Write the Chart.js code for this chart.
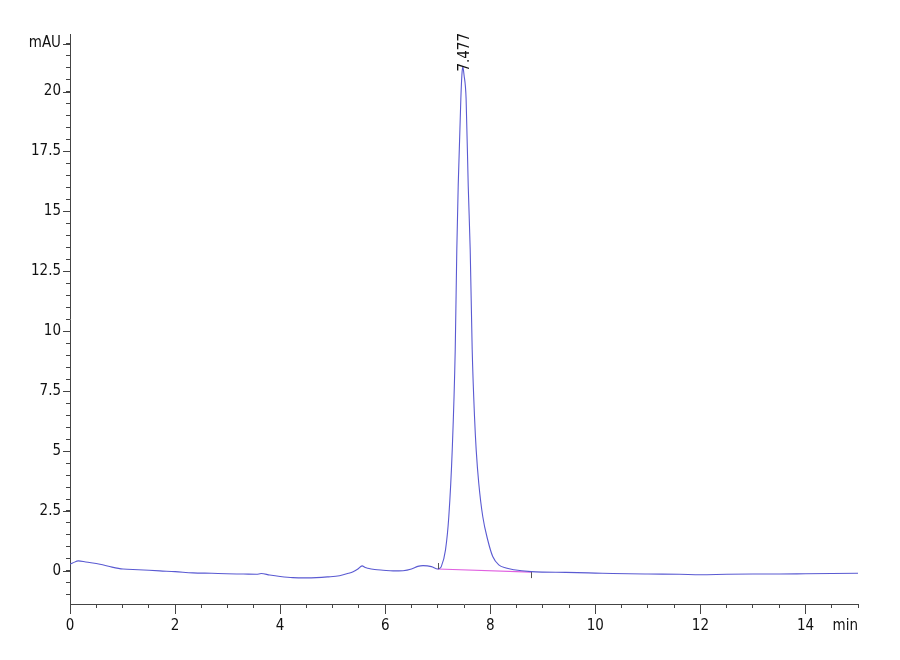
<!DOCTYPE html>
<html><head><meta charset="utf-8">
<script src="https://cdn.jsdelivr.net/npm/chart.js@4.4.0/dist/chart.umd.min.js"></script>
<style>html,body{margin:0;padding:0;background:#fff}#wrap{width:900px;height:660px;position:relative}</style>
</head><body><div id="wrap"><canvas id="c"></canvas></div>
<script>
// retention time (min)
const times = [0,0.05,0.16,0.3,0.57,0.8,1.01,1.3,1.71,2.0,2.34,2.7,2.98,3.3,3.55,3.64,3.8,4.0,4.24,4.5,4.69,4.9,5.13,5.3,5.39,5.48,5.56,5.62,5.67,5.8,5.96,6.15,6.34,6.5,6.62,6.72,6.88,7.0,7.03,7.067,7.148,7.211,7.276,7.333,7.363,7.39,7.44,7.46,7.477,7.5,7.54,7.58,7.618,7.656,7.70,7.732,7.781,7.857,7.952,8.047,8.162,8.3,8.45,8.78,9.0,9.44,10.0,10.33,11.0,11.6,12.0,12.5,13.0,13.5,14.0,14.5,15.0];
// absorbance (mAU)
const signal = [0.29,0.33,0.42,0.37,0.28,0.16,0.08,0.05,0.0,-0.03,-0.08,-0.1,-0.12,-0.13,-0.14,-0.11,-0.17,-0.23,-0.28,-0.29,-0.28,-0.25,-0.2,-0.1,-0.03,0.08,0.21,0.14,0.11,0.06,0.03,0.0,0.01,0.08,0.19,0.22,0.18,0.08,0.1,0.18,0.88,2.27,5.05,9.23,13.4,16.1,19.7,20.7,21.04,20.7,19.7,16.1,13.4,9.23,6.44,5.05,3.66,2.27,1.29,0.6,0.25,0.12,0.05,-0.03,-0.05,-0.06,-0.09,-0.11,-0.13,-0.14,-0.16,-0.14,-0.13,-0.13,-0.12,-0.11,-0.1];
// integration baseline
const baselineTimes = [7.0, 8.78];
const baselineValues = [0.08, -0.05];
// peak annotation
const peakTime = 7.477;
const peakHeight = 21.04;
const peakLabel = '7.477';
// axis ticks
const xMajorTicks = [0,2,4,6,8,10,12,14];
const yMajorTicks = [0,2.5,5,7.5,10,12.5,15,17.5,20];
const yUnitLabel = 'mAU';
const yUnitAt = 22;
const xUnitLabel = 'min';

const FONT = "'Liberation Sans Narrow','Arial Narrow','DejaVu Sans Condensed','Liberation Sans',Arial,sans-serif";
const TEXT = '#111';
const AXIS = '#444';

const traceData = times.map((t,i)=>({x:t,y:signal[i]}));
const baseData = baselineTimes.map((t,i)=>({x:t,y:baselineValues[i]}));

const extras = {
  id:'extras',
  afterDatasetsDraw(chart){
    const ctx = chart.ctx, xs = chart.scales.x, ys = chart.scales.y;
    ctx.save();
    ctx.strokeStyle = '#555'; ctx.lineWidth = 1;
    const sx = Math.round(xs.getPixelForValue(baselineTimes[0]))+0.5, sy = ys.getPixelForValue(baselineValues[0]);
    ctx.beginPath(); ctx.moveTo(sx, sy-6); ctx.lineTo(sx, sy); ctx.stroke();
    const ex = Math.round(xs.getPixelForValue(baselineTimes[1]))+0.5, ey = ys.getPixelForValue(baselineValues[1]);
    ctx.beginPath(); ctx.moveTo(ex, ey); ctx.lineTo(ex, ey+6); ctx.stroke();
    const px = xs.getPixelForValue(peakTime)+2, py = ys.getPixelForValue(peakHeight)+5;
    ctx.translate(px, py); ctx.rotate(-Math.PI/2);
    ctx.fillStyle = TEXT; ctx.font = '15px '+FONT;
    ctx.textAlign = 'left'; ctx.textBaseline = 'middle';
    ctx.fillText(peakLabel, 0, 0);
    ctx.restore();
  },
  afterDraw(chart){
    const ctx = chart.ctx, xs = chart.scales.x, ys = chart.scales.y;
    ctx.save();
    ctx.strokeStyle = AXIS; ctx.lineWidth = 1;
    xMajorTicks.forEach(v=>{
      const p = Math.round(xs.getPixelForValue(v))+0.5;
      ctx.beginPath(); ctx.moveTo(p, xs.top); ctx.lineTo(p, xs.top+10); ctx.stroke();
    });
    yMajorTicks.concat([yUnitAt]).forEach(v=>{
      const p = Math.round(ys.getPixelForValue(v))+0.5;
      ctx.beginPath(); ctx.moveTo(ys.right-7, p); ctx.lineTo(ys.right, p); ctx.stroke();
    });
    ctx.fillStyle = TEXT; ctx.font = '15px '+FONT;
    ctx.textAlign = 'right'; ctx.textBaseline = 'middle';
    ctx.fillText(xUnitLabel, xs.getPixelForValue(15), xs.top+22);
    ctx.restore();
  }
};

new Chart(document.getElementById('c'), {
  type:'line',
  data:{datasets:[
    {data:traceData, borderColor:'#5a5ad2', borderWidth:1.1, pointRadius:0, cubicInterpolationMode:'monotone', fill:false},
    {data:baseData, borderColor:'#e060e0', borderWidth:1.2, pointRadius:0, fill:false}
  ]},
  options:{
    responsive:true, maintainAspectRatio:false, animation:false,
    layout:{padding:{top:34,right:42,left:0,bottom:0}},
    plugins:{legend:{display:false}, tooltip:{enabled:false}},
    scales:{
      x:{type:'linear', min:0, max:15,
        afterFit(s){ s.height = 56; },
        border:{display:true, color:AXIS, width:1},
        grid:{display:true, drawOnChartArea:false, drawTicks:true, tickLength:4, color:AXIS},
        ticks:{stepSize:0.5, autoSkip:false, maxRotation:0, padding:9, color:TEXT, font:{family:FONT, size:15},
          callback:(v)=> xMajorTicks.includes(v) ? String(v) : ''}
      },
      y:{type:'linear', min:-1.38, max:22.4,
        afterFit(s){ s.width = 70; },
        afterBuildTicks(s){ const t=[]; for(let i=-2;i<=44;i++){ t.push({value:i/2}); } s.ticks=t; },
        border:{display:true, color:AXIS, width:1},
        grid:{display:true, drawOnChartArea:false, drawTicks:true, tickLength:4, color:AXIS},
        ticks:{autoSkip:false, padding:5, color:TEXT, font:{family:FONT, size:15},
          callback:(v)=> v===yUnitAt ? yUnitLabel : (yMajorTicks.includes(v) ? String(v) : '')}
      }
    }
  },
  plugins:[extras]
});
</script>
</body></html>
